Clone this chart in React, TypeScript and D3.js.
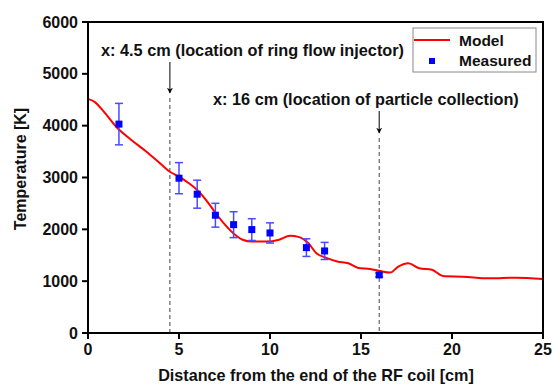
import React from "react";
import * as d3 from "d3";

const modelX = [0, 0.4, 0.8, 1.6, 2.4, 3.2, 4.0, 4.5, 5.0, 5.5, 6.0, 6.5, 7.0, 7.5, 8.0, 8.5, 9.0, 9.8, 10.5, 11.1, 11.6, 12.1, 12.55, 13.1, 13.7, 14.3, 14.85, 15.5, 16.0, 16.6, 17.05, 17.6, 18.2, 18.9, 19.5, 20.6, 22.1, 23.5, 25];
const modelT = [4517, 4450, 4300, 3960, 3720, 3500, 3260, 3110, 3017, 2900, 2760, 2560, 2320, 2100, 1920, 1800, 1765, 1763, 1800, 1875, 1850, 1735, 1540, 1450, 1380, 1345, 1255, 1235, 1200, 1165, 1280, 1345, 1250, 1220, 1100, 1087, 1056, 1068, 1042];

const measX = [1.7, 5, 6, 7, 8, 9, 10, 12, 13, 16];
const measT = [4030, 2987, 2678, 2272, 2090, 1995, 1930, 1647, 1583, 1120];
const measErr = [400, 300, 270, 230, 250, 210, 195, 170, 165, 40];

const xTicks = [0, 5, 10, 15, 20, 25];
const yTicks = [0, 1000, 2000, 3000, 4000, 5000, 6000];

const annotations = [
  { x: 4.5, label: "x: 4.5 cm (location of ring flow injector)" },
  { x: 16, label: "x: 16 cm (location of particle collection)" },
];

export default function App() {
  const L = 88, R = 543, T = 22, B = 333;
  const x = d3.scaleLinear().domain([0, 25]).range([L, R]);
  const y = d3.scaleLinear().domain([0, 6000]).range([B, T]);
  const line = d3
    .line<number>()
    .x((_, i) => x(modelX[i]))
    .y((d) => y(d))
    .curve(d3.curveMonotoneX);
  const font = "'Liberation Sans', Arial, sans-serif";
  const annoGeom = [
    { textX: 101, textY: 56, a1: 62, a2: 93, dashStart: 98 },
    { textX: 213, textY: 105, a1: 111, a2: 133, dashStart: 138 },
  ];
  return (
    <svg width={553} height={385} style={{ position: "absolute", left: 0, top: 0, background: "#fff" }} fontFamily={font}>
      <defs>
        <marker id="arr" viewBox="0 0 10 10" refX="9" refY="5" markerWidth="6" markerHeight="7" orient="auto" markerUnits="userSpaceOnUse">
          <path d="M0,0 L10,5 L0,10 L3,5 z" fill="#000" />
        </marker>
      </defs>
      {annotations.map((a, i) => {
        const g = annoGeom[i];
        const px = x(a.x);
        return (
          <g key={i}>
            <line x1={px} x2={px} y1={g.dashStart} y2={B} stroke="#444" strokeWidth={1} strokeDasharray="4,3" />
            <line x1={px} x2={px} y1={g.a1} y2={g.a2} stroke="#000" strokeWidth={1} markerEnd="url(#arr)" />
            <text x={g.textX} y={g.textY} fontSize={16.3} fontWeight="bold" fill="#111">{a.label}</text>
          </g>
        );
      })}
      <path d={line(modelT) || ""} fill="none" stroke="#ff0000" strokeWidth={2} />
      {measX.map((mx, i) => {
        const px = x(mx);
        const top = y(measT[i] + measErr[i]);
        const bot = y(measT[i] - measErr[i]);
        return (
          <g key={i}>
            <line x1={px} x2={px} y1={top} y2={bot} stroke="#4a4aff" strokeWidth={1.5} />
            <line x1={px - 4} x2={px + 4} y1={top} y2={top} stroke="#4a4aff" strokeWidth={1.5} />
            <line x1={px - 4} x2={px + 4} y1={bot} y2={bot} stroke="#4a4aff" strokeWidth={1.5} />
            <rect x={px - 3.5} y={y(measT[i]) - 3.5} width={7} height={7} fill="#0000ff" />
          </g>
        );
      })}
      <rect x={L} y={T} width={R - L} height={B - T} fill="none" stroke="#000" strokeWidth={2} />
      {xTicks.map((t) => (
        <g key={t}>
          <line x1={x(t)} x2={x(t)} y1={B} y2={B + 6} stroke="#000" strokeWidth={2} />
          <text x={x(t)} y={B + 22} textAnchor="middle" fontSize={16} fontWeight="bold" fill="#111">{t}</text>
        </g>
      ))}
      {yTicks.map((t) => (
        <g key={t}>
          <line x1={L - 6} x2={L} y1={y(t)} y2={y(t)} stroke="#000" strokeWidth={2} />
          <text x={L - 10} y={y(t) + 5.5} textAnchor="end" fontSize={16} fontWeight="bold" fill="#111">{t}</text>
        </g>
      ))}
      <text x={316} y={381} textAnchor="middle" fontSize={16.2} fontWeight="bold" fill="#111">Distance from the end of the RF coil [cm]</text>
      <text transform={`translate(26,169) rotate(-90)`} textAnchor="middle" fontSize={16} fontWeight="bold" fill="#111">Temperature [K]</text>
      <rect x={413} y={28} width={123} height={44} fill="#fff" stroke="#888" strokeWidth={1} />
      <line x1={414} x2={450} y1={40} y2={40} stroke="#ff0000" strokeWidth={2} />
      <text x={459} y={46} fontSize={15.5} fontWeight="bold" fill="#111">Model</text>
      <rect x={429} y={58} width={6} height={6} fill="#0000ff" />
      <text x={459} y={66} fontSize={15.5} fontWeight="bold" fill="#111">Measured</text>
    </svg>
  );
}
